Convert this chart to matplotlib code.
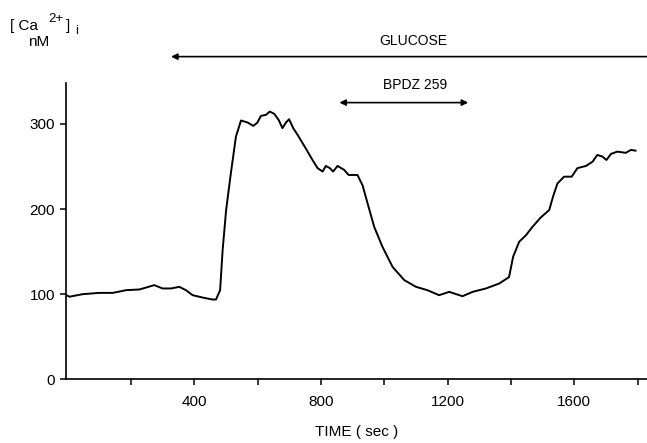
import matplotlib
matplotlib.use("Agg")
import matplotlib.pyplot as plt

plt.rcParams["font.family"] = ["Liberation Sans", "DejaVu Sans"]

# Trace: time (s) and [Ca2+]i (nM)
time_s = [-6, 5, 47, 99, 142, 184, 226, 273, 299, 326, 352, 373, 394, 426, 457,
          468, 481, 489, 500, 515, 531, 547, 568, 586, 599, 610, 626, 638, 652,
          666, 678, 689, 699, 712, 726, 752, 773, 789, 805, 815, 828, 838, 852,
          873, 887, 915, 931, 947, 968, 994, 1026, 1063, 1100, 1136, 1173, 1205,
          1247, 1279, 1321, 1363, 1394, 1407, 1426, 1447, 1468, 1494, 1521, 1533,
          1547, 1568, 1592, 1610, 1637, 1658, 1673, 1689, 1702, 1716, 1736, 1763,
          1779, 1794]
calcium_nm = [99, 97, 100, 101.5, 101.5, 104.7, 105.5, 110.6, 106.7, 106.7, 108.6,
              104.7, 98.8, 96, 93.7, 93.7, 104.7, 151.8, 198.8, 242, 285, 304,
              301.6, 297.6, 301.6, 309.4, 310.6, 314.5, 311.8, 304.7, 295, 301.6,
              305.5, 295, 287, 271, 257.6, 248, 244, 250.6, 248, 244, 250.6, 246,
              240, 240, 228, 206.7, 179, 155.6, 132, 116.5, 108.6, 104.7, 98.8,
              102.7, 97.6, 102.7, 106.7, 112.5, 120, 144, 161.5, 169, 179, 190,
              198.8, 214.5, 230, 238, 238, 248, 250.6, 255.6, 263.5, 261.6, 257.6,
              264.7, 267.4, 266, 269.4, 268.6]

x_ticks = [200, 400, 600, 800, 1000, 1200, 1400, 1600, 1800]
x_labels = ["", "400", "", "800", "", "1200", "", "1600", ""]
y_ticks = [0, 100, 200, 300]

# treatment bars (start, end) in seconds
glucose = (326, 1830)
bpdz = (858, 1265)

fig = plt.figure(figsize=(6.47, 4.43), dpi=100)
ax = fig.add_axes([0.102, 0.1438, 0.898, 0.6688])

ax.plot(time_s, calcium_nm, color="black", lw=1.4)

ax.set_xlim(-6, 1830)
ax.set_ylim(0, 348)
ax.set_xticks(x_ticks)
ax.set_xticklabels(x_labels)
ax.set_yticks(y_ticks)

for side in ["top", "right"]:
    ax.spines[side].set_visible(False)
for side in ["left", "bottom"]:
    ax.spines[side].set_linewidth(1.2)

ax.tick_params(axis="both", direction="out", length=4, width=1.1, labelsize=11)
ax.tick_params(axis="x", pad=7)
ax.tick_params(axis="y", pad=4)

ax.set_xlabel("TIME ( sec )", fontsize=11, labelpad=12)

# glucose arrow (points left)
ax.annotate("", xy=(glucose[0], 379), xytext=(glucose[1], 379),
            arrowprops=dict(arrowstyle="-|>", color="black", lw=1.2,
                            mutation_scale=9, shrinkA=0, shrinkB=0),
            annotation_clip=False)
ax.text(1091, 397, "GLUCOSE", ha="center", va="center", fontsize=10,
        clip_on=False)

# BPDZ 259 double arrow
ax.annotate("", xy=(bpdz[0], 325), xytext=(bpdz[1], 325),
            arrowprops=dict(arrowstyle="<|-|>", color="black", lw=1.2,
                            mutation_scale=9, shrinkA=0, shrinkB=0),
            annotation_clip=False)
ax.text(1096, 346, "BPDZ 259", ha="center", va="center", fontsize=10,
        clip_on=False)

# y-axis unit label, built from pieces like the original lettering
W, H = 647, 443
fig.text(10 / W, 1 - 30 / H, "[ Ca", ha="left", va="baseline", fontsize=11)
fig.text(48 / W, 1 - 22 / H, "2+", ha="left", va="baseline", fontsize=9.5)
fig.text(66 / W, 1 - 30 / H, "]", ha="left", va="baseline", fontsize=11)
fig.text(75 / W, 1 - 34 / H, "i", ha="left", va="baseline", fontsize=9.5)
fig.text(39 / W, 1 - 42 / H, "nM", ha="center", va="center", fontsize=11)

fig.savefig("out.png", dpi=100)
plt.close(fig)
